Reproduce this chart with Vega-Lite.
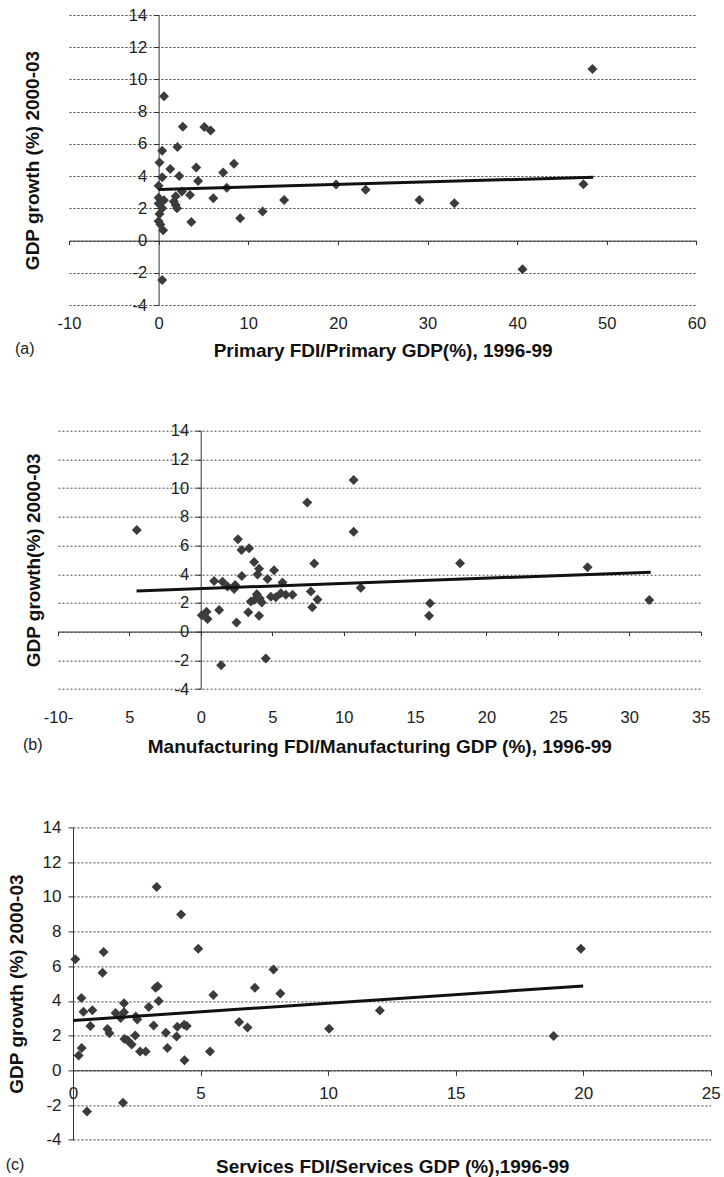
{
  "$schema": "https://vega.github.io/schema/vega-lite/v6.json",
  "background": "white",
  "padding": {"left": 5, "top": 7, "right": 5, "bottom": 0},
  "bounds": "flush",
  "spacing": 125.7,
  "config": {
    "view": {"stroke": null},
    "font": "Liberation Sans",
    "axis": {
      "labelFont": "Liberation Sans",
      "titleFont": "Liberation Sans",
      "labelColor": "#222222",
      "titleColor": "#111111",
      "domainColor": "#333333",
      "tickColor": "#333333",
      "gridColor": "#444444",
      "gridDash": [2, 2],
      "gridWidth": 1,
      "labelFontSize": 16.5,
      "titleFontSize": 19,
      "titleFontWeight": "bold",
      "labelFlush": false,
      "labelOverlap": false
    },
    "title": {"font": "Liberation Sans", "fontWeight": "normal", "fontSize": 16, "color": "#222222"}
  },
  "datasets": {
    "a": [
      {"x":0.6,"y":8.95},{"x":2.7,"y":7.07},{"x":5.1,"y":7.05},{"x":5.8,"y":6.83},{"x":0.4,"y":5.58},{"x":2.1,"y":5.8},{"x":0.1,"y":4.84},{"x":1.3,"y":4.44},{"x":4.2,"y":4.53},{"x":8.4,"y":4.76},{"x":7.2,"y":4.22},{"x":2.3,"y":4.01},{"x":0.4,"y":3.93},{"x":4.4,"y":3.7},{"x":0.0,"y":3.4},{"x":7.6,"y":3.27},{"x":2.6,"y":3.05},{"x":3.5,"y":2.83},{"x":1.9,"y":2.75},{"x":6.1,"y":2.62},{"x":0.0,"y":2.65},{"x":0.6,"y":2.5},{"x":1.7,"y":2.42},{"x":1.9,"y":2.2},{"x":2.05,"y":2.01},{"x":0.4,"y":2.01},{"x":0.1,"y":1.65},{"x":0.0,"y":1.2},{"x":0.5,"y":0.64},{"x":3.65,"y":1.15},{"x":9.1,"y":1.38},{"x":11.6,"y":1.8},{"x":14.0,"y":2.52},{"x":19.8,"y":3.48},{"x":0.4,"y":-2.45},{"x":0.0,"y":2.3},{"x":0.2,"y":1.0},{"x":23.1,"y":3.15},{"x":29.1,"y":2.52},{"x":33.0,"y":2.32},{"x":40.6,"y":-1.78},{"x":47.4,"y":3.5},{"x":48.4,"y":10.65}
    ],
    "trendA": [{"x":0,"y":3.17},{"x":48.5,"y":3.93}],
    "b": [
      {"x":-4.48,"y":7.08},{"x":7.45,"y":9.0},{"x":10.7,"y":10.56},{"x":10.7,"y":6.96},{"x":7.94,"y":4.74},{"x":2.6,"y":6.43},{"x":2.85,"y":5.69},{"x":3.38,"y":5.8},{"x":3.73,"y":4.85},{"x":4.08,"y":4.38},{"x":3.97,"y":3.98},{"x":2.87,"y":3.88},{"x":5.13,"y":4.28},{"x":4.67,"y":3.67},{"x":5.72,"y":3.42},{"x":0.93,"y":3.53},{"x":1.52,"y":3.48},{"x":1.87,"y":3.15},{"x":2.4,"y":3.25},{"x":2.33,"y":2.97},{"x":7.7,"y":2.79},{"x":3.92,"y":2.6},{"x":4.13,"y":2.3},{"x":3.73,"y":2.2},{"x":3.5,"y":2.09},{"x":4.9,"y":2.42},{"x":5.25,"y":2.4},{"x":5.6,"y":2.67},{"x":5.95,"y":2.56},{"x":6.42,"y":2.56},{"x":8.17,"y":2.24},{"x":7.8,"y":1.7},{"x":4.27,"y":2.02},{"x":0.07,"y":1.14},{"x":0.4,"y":1.39},{"x":0.47,"y":0.88},{"x":1.28,"y":1.51},{"x":3.32,"y":1.35},{"x":4.08,"y":1.1},{"x":2.5,"y":0.63},{"x":4.55,"y":-1.88},{"x":1.42,"y":-2.35},{"x":11.2,"y":3.05},{"x":18.15,"y":4.76},{"x":16.05,"y":1.98},{"x":15.98,"y":1.11},{"x":27.08,"y":4.48},{"x":31.4,"y":2.21}
    ],
    "trendB": [{"x":-4.5,"y":2.83},{"x":31.5,"y":4.14}],
    "c": [
      {"x":0.09,"y":6.4},{"x":1.2,"y":6.82},{"x":1.16,"y":5.62},{"x":3.28,"y":10.56},{"x":4.24,"y":8.98},{"x":4.91,"y":7.0},{"x":7.86,"y":5.81},{"x":7.13,"y":4.76},{"x":8.13,"y":4.43},{"x":5.5,"y":4.34},{"x":3.24,"y":4.76},{"x":3.32,"y":4.85},{"x":3.36,"y":3.99},{"x":0.33,"y":4.16},{"x":0.41,"y":3.37},{"x":0.76,"y":3.46},{"x":0.68,"y":2.56},{"x":2.0,"y":3.87},{"x":1.67,"y":3.3},{"x":2.0,"y":3.34},{"x":1.87,"y":3.02},{"x":2.46,"y":3.1},{"x":2.52,"y":2.93},{"x":2.97,"y":3.65},{"x":1.35,"y":2.38},{"x":1.43,"y":2.14},{"x":3.16,"y":2.58},{"x":3.64,"y":2.16},{"x":4.06,"y":1.95},{"x":4.09,"y":2.51},{"x":4.36,"y":2.62},{"x":4.46,"y":2.55},{"x":2.02,"y":1.8},{"x":2.15,"y":1.72},{"x":2.3,"y":1.48},{"x":2.44,"y":2.0},{"x":2.63,"y":1.08},{"x":2.85,"y":1.08},{"x":3.7,"y":1.29},{"x":5.37,"y":1.08},{"x":4.37,"y":0.58},{"x":0.22,"y":0.86},{"x":0.34,"y":1.29},{"x":6.51,"y":2.78},{"x":6.84,"y":2.47},{"x":10.04,"y":2.39},{"x":0.55,"y":-2.37},{"x":1.96,"y":-1.87},{"x":19.91,"y":7.01},{"x":12.03,"y":3.45},{"x":18.84,"y":1.97}
    ],
    "trendC": [{"x":0,"y":2.87},{"x":20,"y":4.86}]
  },
  "vconcat": [
    {
      "width": 626,
      "height": 290,
      "title": {"text": "(a)", "orient": "bottom", "anchor": "start", "frame": "group", "dx": -54, "offset": -19},
      "layer": [
        {
          "data": {"name": "a"},
          "mark": {"type": "point", "shape": "diamond", "filled": true, "color": "#3b3b3b", "opacity": 1, "size": 100},
          "encoding": {
            "x": {"field": "x", "type": "quantitative",
              "scale": {"domain": [-10, 60], "range": [0, 627.4], "nice": false, "zero": false},
              "axis": {"values": [-10, 0, 10, 20, 30, 40, 50, 60], "tickCount": 30, "labelExpr": "'' + datum.value", "offset": -64.4, "tickSize": 4, "labelPadding": 71, "grid": false, "title": "Primary FDI/Primary GDP(%), 1996-99", "titlePadding": 9}},
            "y": {"field": "y", "type": "quantitative",
              "scale": {"domain": [-4, 14], "nice": false, "zero": false},
              "axis": {"values": [-4, -2, 0, 2, 4, 6, 8, 10, 12, 14], "tickCount": 30, "labelExpr": "'' + datum.value", "offset": -89.6, "tickSize": 5, "labelPadding": 7, "grid": true, "title": "GDP growth (%) 2000-03", "titleX": -116}}
          }
        },
        {
          "data": {"name": "trendA"},
          "mark": {"type": "line", "color": "#111111", "strokeWidth": 3},
          "encoding": {
            "x": {"field": "x", "type": "quantitative"},
            "y": {"field": "y", "type": "quantitative"}
          }
        }
      ]
    },
    {
      "width": 626,
      "height": 270.3,
      "title": {"text": "(b)", "orient": "bottom", "anchor": "start", "frame": "group", "dx": -46, "offset": -19},
      "layer": [
        {
          "data": {"name": "b"},
          "mark": {"type": "point", "shape": "diamond", "filled": true, "color": "#3b3b3b", "opacity": 1, "size": 100},
          "encoding": {
            "x": {"field": "x", "type": "quantitative",
              "scale": {"domain": [-10, 35], "range": [-11, 631.7], "nice": false, "zero": false},
              "axis": {"values": [-10, -5, 0, 5, 10, 15, 20, 25, 30, 35], "tickCount": 30, "labelExpr": "datum.value == -10 ? '-10-' : datum.value == -5 ? '5' : '' + datum.value", "offset": -69.4, "tickSize": 4, "labelPadding": 74, "grid": false, "title": "Manufacturing FDI/Manufacturing GDP (%), 1996-99", "titlePadding": 11}},
            "y": {"field": "y", "type": "quantitative",
              "scale": {"domain": [-4, 14], "range": [258.3, 0], "nice": false, "zero": false},
              "axis": {"values": [-4, -2, 0, 2, 4, 6, 8, 10, 12, 14], "tickCount": 30, "labelExpr": "'' + datum.value", "offset": -131.7, "tickSize": 5, "labelPadding": 7, "grid": true, "title": "GDP growth(%) 2000-03", "titleX": -157}}
          }
        },
        {
          "data": {"name": "trendB"},
          "mark": {"type": "line", "color": "#111111", "strokeWidth": 3},
          "encoding": {
            "x": {"field": "x", "type": "quantitative"},
            "y": {"field": "y", "type": "quantitative"}
          }
        }
      ]
    },
    {
      "width": 626,
      "height": 312.3,
      "title": {"text": "(c)", "orient": "bottom", "anchor": "start", "frame": "group", "dx": -63.3, "offset": -19},
      "layer": [
        {
          "data": {"name": "c"},
          "mark": {"type": "point", "shape": "diamond", "filled": true, "color": "#3b3b3b", "opacity": 1, "size": 100},
          "encoding": {
            "x": {"field": "x", "type": "quantitative",
              "scale": {"domain": [0, 25], "range": [4, 641.7], "nice": false, "zero": false},
              "axis": {"values": [0, 5, 10, 15, 20, 25], "tickCount": 30, "labelExpr": "'' + datum.value", "offset": -69.4, "tickSize": 5, "labelPadding": 10, "labelFontSize": 17, "grid": false, "title": "Services FDI/Services GDP (%),1996-99", "titlePadding": 56, "titleX": 323.2}},
            "y": {"field": "y", "type": "quantitative",
              "scale": {"domain": [-4, 14], "nice": false, "zero": false},
              "axis": {"values": [-4, -2, 0, 2, 4, 6, 8, 10, 12, 14], "tickCount": 30, "labelExpr": "'' + datum.value", "offset": -4, "tickSize": 5, "labelPadding": 7, "labelFontSize": 17, "grid": true, "title": "GDP growth (%) 2000-03", "titleX": -46.3}}
          }
        },
        {
          "data": {"name": "trendC"},
          "mark": {"type": "line", "color": "#111111", "strokeWidth": 3},
          "encoding": {
            "x": {"field": "x", "type": "quantitative"},
            "y": {"field": "y", "type": "quantitative"}
          }
        }
      ]
    }
  ]
}
